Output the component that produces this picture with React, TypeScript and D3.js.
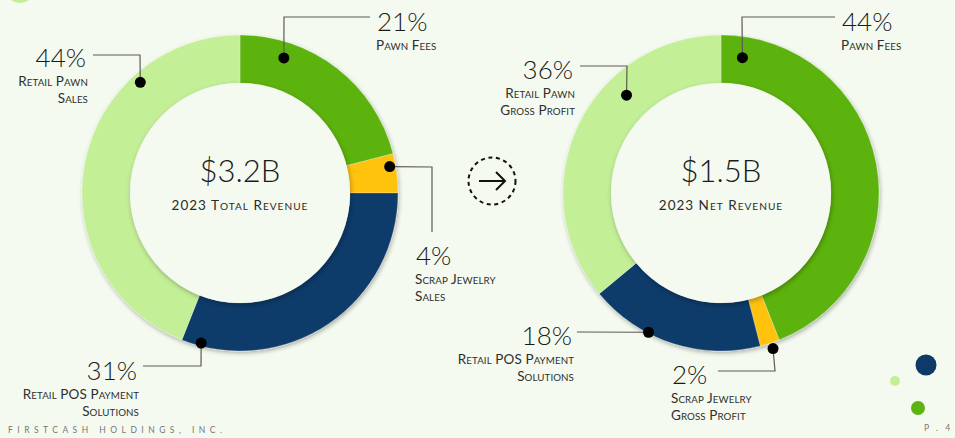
import React from "react";
import * as d3 from "d3";

const categories = ["Pawn Fees", "Scrap Jewelry", "Retail POS Payment Solutions", "Retail Pawn"];
const totalRevenueShares = [21, 4, 31, 44];
const netRevenueShares = [44, 2, 18, 36];
const totalRevenueLabels = [["Pawn Fees"], ["Scrap Jewelry", "Sales"], ["Retail POS Payment", "Solutions"], ["Retail Pawn", "Sales"]];
const netRevenueLabels = [["Pawn Fees"], ["Scrap Jewelry", "Gross Profit"], ["Retail POS Payment", "Solutions"], ["Retail Pawn", "Gross Profit"]];
const centerValues = ["$3.2B", "$1.5B"];
const centerTitles = ["2023 Total Revenue", "2023 Net Revenue"];

const COLORS = ["#5DB30F", "#FFC20E", "#0E3A6A", "#C3EF96"];
const BG = "#F4FAEF";
const FONT = "Lato, 'Open Sans', sans-serif";

type Callout = {
  dot: [number, number]; // angle deg, radius
  path: [number, number][]; // relative to center
  text: [number, number]; // relative to center (pct baseline)
  anchor: "start" | "end";
};

const leftCallouts: Callout[] = [
  { dot: [18, 142], path: [[44, -176], [130, -176]], text: [137, -162], anchor: "start" },
  { dot: [80, 152], path: [[192, -26], [192, 39]], text: [176, 72], anchor: "start" },
  { dot: [194.5, 155], path: [[-39, 173], [-97, 173]], text: [-103, 187], anchor: "end" },
  { dot: [318, 149], path: [[-100, -138], [-147, -138]], text: [-154, -126], anchor: "end" },
];
const rightCallouts: Callout[] = [
  { dot: [9, 137], path: [[21, -176], [114, -176]], text: [121, -162], anchor: "start" },
  { dot: [161.5, 164], path: [[54, 178], [-3, 178]], text: [-49, 191], anchor: "start" },
  { dot: [207.5, 157], path: [[-144, 139]], text: [-149, 152], anchor: "end" },
  { dot: [316, 136], path: [[-94, -127], [-141, -127]], text: [-148, -114], anchor: "end" },
];

function smallCaps(s: string, size: number, scale = 0.72) {
  const runs: { t: string; small: boolean }[] = [];
  for (const ch of s) {
    const small = ch !== ch.toUpperCase();
    const last = runs[runs.length - 1];
    if (last && last.small === small) last.t += ch;
    else runs.push({ t: ch, small });
  }
  return runs.map((r, i) => (
    <tspan key={i} fontSize={r.small ? size * scale : size}>{r.small ? r.t.toUpperCase() : r.t}</tspan>
  ));
}

function Donut({ cx, cy, values, labels, callouts, value, title }: any) {
  const R = 158, r = 110;
  const pie = d3.pie<number>().sort(null).startAngle(0).endAngle(2 * Math.PI);
  const arcs = pie(values);
  const arc = d3.arc<d3.PieArcDatum<number>>().innerRadius(r).outerRadius(R);
  return (
    <g transform={`translate(${cx},${cy})`}>
      <g filter="url(#ringShadow)">
        {arcs.map((a, i) => (
          <path key={i} d={arc(a) || ""} fill={COLORS[i]} stroke="rgba(255,255,255,0.25)" strokeWidth={1} />
        ))}
      </g>
      <circle r={r} fill={BG} filter="url(#innerShadow)" />
      <text y={-11} textAnchor="middle" fontFamily={FONT} fontWeight={300} fontSize={31} fill="#1a1a1a">{value}</text>
      <text y={17} textAnchor="middle" fontFamily={FONT} fontSize={13.5} fill="#2a2a2a" letterSpacing={1}>
        {smallCaps(title, 13.5, 0.75)}
      </text>
      {callouts.map((c: Callout, i: number) => {
        const ang = (c.dot[0] * Math.PI) / 180;
        const dx = Math.sin(ang) * c.dot[1];
        const dy = -Math.cos(ang) * c.dot[1];
        const pts: [number, number][] = [[dx, dy], ...c.path];
        return (
          <g key={i}>
            <polyline points={pts.map((p) => p.join(",")).join(" ")} fill="none" stroke="#5a5a5a" strokeWidth={1.2} />
            <circle cx={dx} cy={dy} r={5.5} fill="#000" />
            <text x={c.text[0]} y={c.text[1]} textAnchor={c.anchor} fontFamily={FONT} fontWeight={300} fontSize={26} fill="#1a1a1a">
              {values[i]}%
            </text>
            {labels[i].map((l: string, j: number) => (
              <text key={j} x={c.text[0] + (c.anchor === "end" ? 2 : -1)} y={c.text[1] + 19 + j * 17} textAnchor={c.anchor}
                fontFamily={FONT} fontSize={13.5} fill="#2e2e2e" letterSpacing={0.1}>{smallCaps(l, 13.5)}</text>
            ))}
          </g>
        );
      })}
    </g>
  );
}

export default function App() {
  return (
    <svg width={955} height={438} style={{ position: "fixed", left: 0, top: 0, background: BG }}>
      <defs>
        <filter id="ringShadow" x="-20%" y="-20%" width="140%" height="140%">
          <feDropShadow dx="1" dy="2" stdDeviation="2" floodColor="#000" floodOpacity="0.3" />
        </filter>
        <filter id="innerShadow" x="-20%" y="-20%" width="140%" height="140%">
          <feDropShadow dx="1" dy="2" stdDeviation="2.5" floodColor="#000" floodOpacity="0.3" />
        </filter>
      </defs>
      <rect width={955} height={438} fill={BG} />
      <circle cx={20} cy={-12} r={15} fill="#C3EF96" />
      <Donut cx={240} cy={193} values={totalRevenueShares} labels={totalRevenueLabels} callouts={leftCallouts}
        value={centerValues[0]} title={centerTitles[0]} />
      <Donut cx={721} cy={193} values={netRevenueShares} labels={netRevenueLabels} callouts={rightCallouts}
        value={centerValues[1]} title={centerTitles[1]} />
      <g transform="translate(492,181)">
        <circle r={23.5} fill="none" stroke="#111" strokeWidth={2} strokeDasharray="4 3.6" />
        <line x1={-13} y1={0} x2={13} y2={0} stroke="#111" strokeWidth={2} />
        <polyline points="4,-9 13,0 4,9" fill="none" stroke="#111" strokeWidth={2} />
      </g>
      <circle cx={926} cy={365} r={10.5} fill="#0E3A6A" />
      <circle cx={895} cy={381} r={5} fill="#C3EF96" />
      <circle cx={918} cy={408} r={7} fill="#5DB30F" />
      <text x={924} y={431} fontFamily={FONT} fontSize={8.5} fill="#777" letterSpacing={2.5}>P . 4</text>
      <text x={8} y={433} fontFamily={FONT} fontSize={8.5} fill="#777" textLength={214} lengthAdjust="spacing">FIRSTCASH HOLDINGS, INC.</text>
      <desc>{categories.join(", ")}</desc>
    </svg>
  );
}
